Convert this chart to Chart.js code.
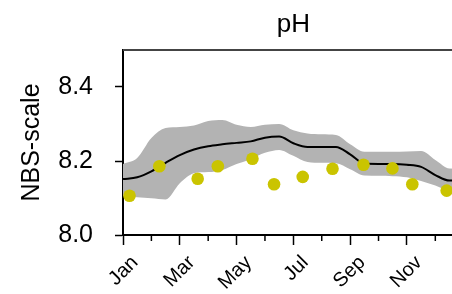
<!DOCTYPE html>
<html>
<head>
<meta charset="utf-8">
<script src="https://cdn.jsdelivr.net/npm/chart.js@4/dist/chart.umd.min.js"></script>
<style>
    html, body { margin: 0; padding: 0; overflow: hidden; background: #fff; }
</style>
</head>
<body>
<canvas id="phChart" width="470" height="294"></canvas>
<script>
const monthNames = ['Jan', 'Feb', 'Mar', 'Apr', 'May', 'Jun', 'Jul', 'Aug', 'Sep', 'Oct', 'Nov', 'Dec'];
const gridMonths = [0, 0.5, 1, 1.5, 2, 2.5, 3, 3.5, 4, 4.5, 5, 5.5, 6, 6.5, 7, 7.5, 8, 8.5, 9, 9.5, 10, 10.5, 11, 11.5, 12];
const meanPH = [8.151, 8.156, 8.172, 8.195, 8.216, 8.231, 8.240, 8.245, 8.249, 8.253, 8.263, 8.266, 8.248,
    8.238, 8.238, 8.238, 8.218, 8.193, 8.192, 8.192, 8.190, 8.184, 8.162, 8.147, 8.147];
const upperPH = [8.192, 8.208, 8.262, 8.289, 8.292, 8.296, 8.308, 8.311, 8.298, 8.292, 8.298, 8.300, 8.283,
    8.274, 8.272, 8.270, 8.245, 8.225, 8.225, 8.225, 8.226, 8.227, 8.203, 8.180, 8.179];
const lowerPH = [8.105, 8.102, 8.099, 8.096, 8.140, 8.167, 8.170, 8.176, 8.192, 8.205, 8.222, 8.230, 8.214,
    8.197, 8.195, 8.194, 8.178, 8.161, 8.160, 8.159, 8.156, 8.146, 8.134, 8.120, 8.118];
const obsMonths = [0.23, 1.28, 2.63, 3.34, 4.56, 5.32, 6.33, 7.38, 8.47, 9.49, 10.19, 11.40];
const obsPH = [8.106, 8.186, 8.152, 8.186, 8.206, 8.137, 8.157, 8.179, 8.190, 8.180, 8.137, 8.120];
const yTicks = [8.0, 8.2, 8.4];
const xTicks = [0, 1, 2, 3, 4, 5, 6, 7, 8, 9, 10, 11, 12];

const FONT = "'Liberation Sans', Arial, sans-serif";
const pairs = (xs, ys) => xs.map((x, i) => ({ x, y: ys[i] }));

const frame = {
    id: 'frame',
    afterDraw(chart) {
        const { ctx, chartArea: a, scales: { x } } = chart;
        ctx.save();
        ctx.strokeStyle = '#444';
        ctx.lineWidth = 2;
        ctx.beginPath();
        ctx.moveTo(a.left, a.top);
        ctx.lineTo(a.right, a.top);
        ctx.stroke();
        // short minor ticks on odd months
        ctx.strokeStyle = '#000';
        ctx.lineWidth = 1.5;
        xTicks.filter(v => v % 2).forEach(v => {
            const px = x.getPixelForValue(v);
            ctx.beginPath();
            ctx.moveTo(px, a.bottom);
            ctx.lineTo(px, a.bottom + 6);
            ctx.stroke();
        });
        ctx.fillStyle = '#000';
        ctx.font = `26px ${FONT}`;
        ctx.textAlign = 'center';
        ctx.textBaseline = 'middle';
        ctx.fillText('pH', (a.left + a.right) / 2, 25);
        ctx.restore();
    }
};

new Chart(document.getElementById('phChart'), {
    type: 'line',
    data: {
        datasets: [
            { type: 'scatter', data: pairs(obsMonths, obsPH), order: 0, pointRadius: 6.3, pointBorderWidth: 0,
              backgroundColor: '#cac400', borderColor: '#cac400' },
            { data: pairs(gridMonths, meanPH), order: 1, borderColor: '#000', borderWidth: 2, pointRadius: 0,
              cubicInterpolationMode: 'monotone', fill: false },
            { data: pairs(gridMonths, upperPH), order: 2, borderWidth: 0, pointRadius: 0,
              cubicInterpolationMode: 'monotone', fill: '+1', backgroundColor: '#b3b3b3' },
            { data: pairs(gridMonths, lowerPH), order: 3, borderWidth: 0, pointRadius: 0,
              cubicInterpolationMode: 'monotone', fill: false }
        ]
    },
    options: {
        responsive: false,
        animation: false,
        layout: { padding: { top: 50, right: 4.5, left: 0, bottom: 0 } },
        plugins: { legend: { display: false }, tooltip: { enabled: false } },
        scales: {
            x: {
                type: 'linear', min: 0, max: 12,
                afterBuildTicks: s => { s.ticks = xTicks.map(value => ({ value })); },
                afterFit: s => { s.height = 59; s.paddingRight = 0; s.paddingLeft = 0; },
                border: { color: '#000', width: 2 },
                grid: { drawOnChartArea: false, tickLength: 10, tickWidth: 1.5,
                        tickColor: c => (c.tick && c.tick.value % 2) ? 'rgba(0,0,0,0)' : '#000' },
                ticks: {
                    autoSkip: false, maxRotation: 45, minRotation: 45, padding: 6, labelOffset: 12,
                    color: '#000', font: { family: FONT, size: 20 },
                    callback: v => (v % 2 === 0 && v < 12) ? monthNames[v] : ''
                }
            },
            y: {
                min: 8.0, max: 8.5,
                afterBuildTicks: s => { s.ticks = yTicks.map(value => ({ value })); },
                afterFit: s => { s.width = 123; },
                border: { color: '#000', width: 2 },
                grid: { drawOnChartArea: false, tickLength: 8, tickWidth: 1.5, tickColor: '#000' },
                ticks: { padding: 22, color: '#000', font: { family: FONT, size: 25 }, callback: v => v.toFixed(1) },
                title: { display: true, text: 'NBS-scale', color: '#000', padding: { top: 17, bottom: 0 },
                         font: { family: FONT, size: 25 } }
            }
        }
    },
    plugins: [frame]
});
</script>
</body>
</html>
